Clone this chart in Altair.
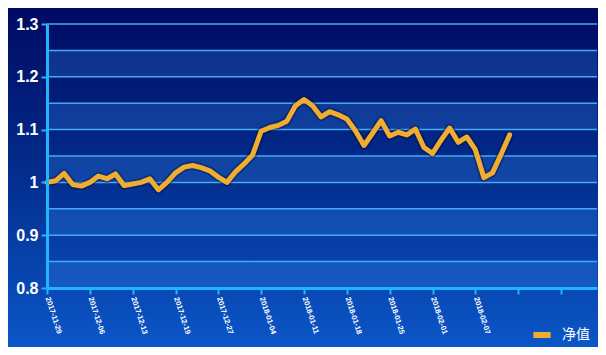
import altair as alt
import pandas as pd

# ---- data ----
dates = ["2017-11-29", "2017-12-06", "2017-12-13", "2017-12-19", "2017-12-27",
         "2018-01-04", "2018-01-11", "2018-01-18", "2018-01-25", "2018-02-01",
         "2018-02-07"]
nav = [1.000, 1.003, 1.017, 0.996, 0.993, 1.000, 1.012, 1.007, 1.016, 0.994,
       0.997, 1.000, 1.007, 0.986, 1.000, 1.018, 1.029, 1.032, 1.028, 1.022,
       1.010, 1.000, 1.020, 1.035, 1.052, 1.097, 1.104, 1.108, 1.116, 1.145,
       1.157, 1.145, 1.124, 1.134, 1.128, 1.120, 1.098, 1.070, 1.093, 1.117,
       1.088, 1.095, 1.090, 1.101, 1.066, 1.055, 1.080, 1.103, 1.076, 1.086,
       1.062, 1.009, 1.018, 1.053, 1.090]
series_name = "净值"
y_ticks = [0.8, 0.9, 1.0, 1.1, 1.2, 1.3]
y_grid = [0.85, 0.9, 0.95, 1.0, 1.05, 1.1, 1.15, 1.2, 1.25, 1.3]
band_lows = [0.8, 0.9, 1.0, 1.1, 1.2]
x_ticks = list(range(0, 61, 5))

df = pd.DataFrame({"i": list(range(len(nav))), "nav": nav, "series": series_name})
grid_df = pd.DataFrame({"y": y_grid})
band_df = pd.DataFrame({"lo": band_lows, "hi": [b + 0.05 for b in band_lows]})

AXIS_BLUE = "#22b4ff"
xs = alt.Scale(domain=[0, 64.2], nice=False, zero=False)
ys = alt.Scale(domain=[0.8, 1.3], nice=False, zero=False)

label_arr = "[" + ",".join("'%s'" % d for d in dates) + "]"

x_axis = alt.Axis(
    values=x_ticks, grid=False, title=None, zindex=1,
    labelExpr=label_arr + "[datum.value/5] || ''",
    labelAngle=72, labelAlign="left", labelBaseline="middle",
    labelFontSize=7.5, labelFontWeight="bold", labelColor="white",
    labelFont="Liberation Sans", labelPadding=3, labelOverlap=False,
    tickColor=AXIS_BLUE, tickSize=6, tickWidth=2,
    domainColor=AXIS_BLUE, domainWidth=3)
y_axis = alt.Axis(
    values=y_ticks, grid=False, format="~g", title=None, zindex=1,
    labelFontSize=16, labelFontWeight="bold", labelColor="white",
    labelFont="Liberation Sans", labelPadding=3,
    tickColor=AXIS_BLUE, tickSize=6, tickWidth=2,
    domainColor=AXIS_BLUE, domainWidth=3)

bg = alt.Chart(pd.DataFrame({"k": [0]})).mark_rect(
    color=alt.Gradient(
        gradient="linear", x1=0, x2=0, y1=0, y2=1,
        stops=[alt.GradientStop(color="#000a62", offset=0),
               alt.GradientStop(color="#032e8e", offset=0.5),
               alt.GradientStop(color="#0b56c8", offset=1)])
).encode(x=alt.value(-39), x2=alt.value(551), y=alt.value(-16), y2=alt.value(323))

bands = alt.Chart(band_df).mark_rect(color="#3a8ff0", opacity=0.25).encode(
    y=alt.Y("lo:Q", scale=ys, axis=y_axis),
    y2="hi:Q",
    x=alt.value(0), x2=alt.value(550),
)

grid = alt.Chart(grid_df).mark_rule(color="#45aaf5", strokeWidth=1.5).encode(
    y=alt.Y("y:Q", scale=ys, axis=y_axis),
    x=alt.value(0), x2=alt.value(550),
)

shadow = alt.Chart(df).mark_line(color="#000a30", opacity=0.35, strokeWidth=8.5,
                                 strokeJoin="round").encode(
    x=alt.X("i:Q", scale=xs, axis=x_axis),
    y=alt.Y("nav:Q", scale=ys, axis=y_axis),
)

line = alt.Chart(df).mark_line(strokeWidth=5, strokeJoin="round", strokeCap="round").encode(
    x=alt.X("i:Q", scale=xs, axis=x_axis),
    y=alt.Y("nav:Q", scale=ys, axis=y_axis),
    color=alt.Color("series:N", scale=alt.Scale(range=["#f2ac2e"]), legend=alt.Legend(
        title=None, orient="none", legendX=483, legendY=299,
        symbolType="stroke", symbolStrokeWidth=6, symbolSize=300,
        labelColor="white", labelFontSize=14, labelFont="Noto Sans CJK SC",
        labelOffset=8)),
)

chart = alt.layer(bg, bands, grid, shadow, line).properties(
    width=550, height=264,
    autosize=alt.AutoSizeParams(type="none"),
    padding={"left": 39, "top": 16, "right": 1, "bottom": 59},
).configure_view(strokeWidth=0)

chart.save("out.html", embed_options={"renderer": "svg", "actions": False})
